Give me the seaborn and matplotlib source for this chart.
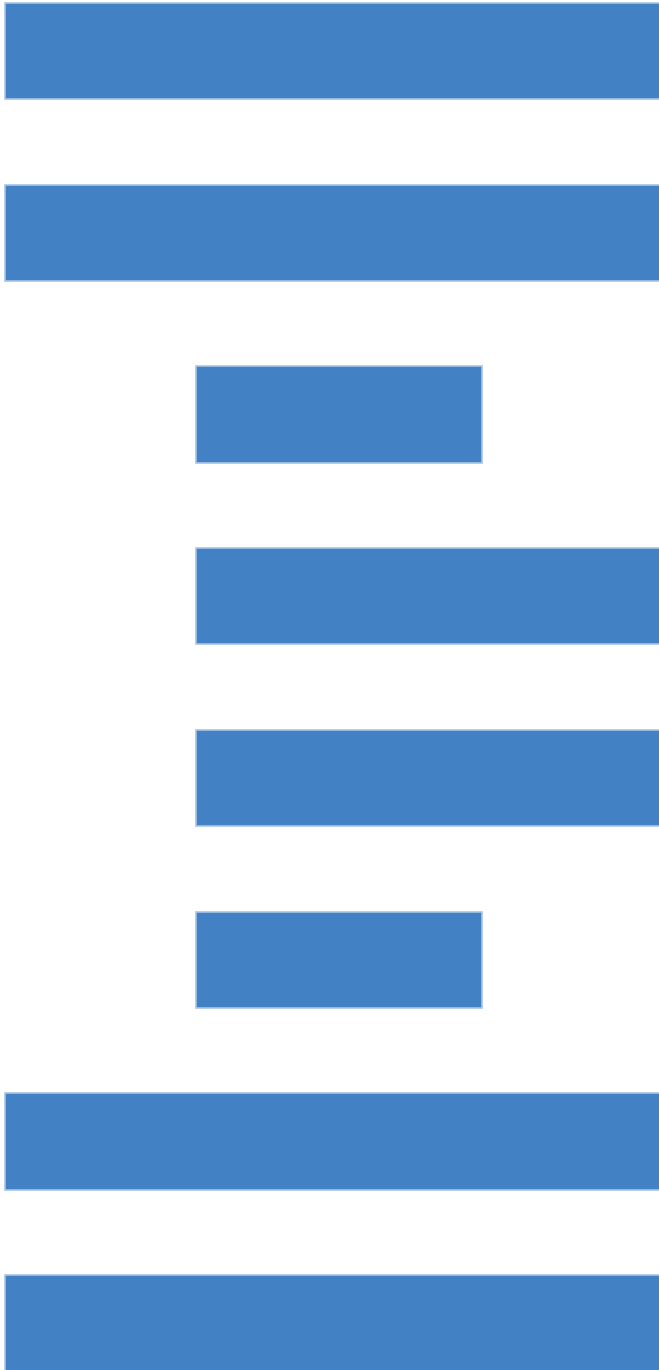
import pandas as pd
import numpy as np
import matplotlib.pyplot as plt
import seaborn as sns

# Floating horizontal bars, one per row (start and end on the x axis)
rows = ['1', '2', '3', '4', '5', '6', '7', '8']
starts = [0, 0, 2, 2, 2, 2, 0, 0]
ends = [7, 7, 5, 7, 7, 5, 7, 7]

data = pd.DataFrame({'row': rows, 'start': starts, 'end': ends})
data['width'] = data['end'] - data['start']

sns.set_theme(style='white')

fig = plt.figure(figsize=(6.59, 13.70), dpi=100)
ax = fig.add_axes([0, 0, 1, 1])

pos = np.arange(len(data))
ax.barh(pos, data['width'], left=data['start'], height=0.53,
        color='#4281c4', edgecolor='#a9c4e4', linewidth=1.2)

ax.set_xlim(-0.052, 6.85)
ax.set_ylim(7.256, -0.28)
ax.axis('off')

fig.savefig('out.png', dpi=100, facecolor='white')
